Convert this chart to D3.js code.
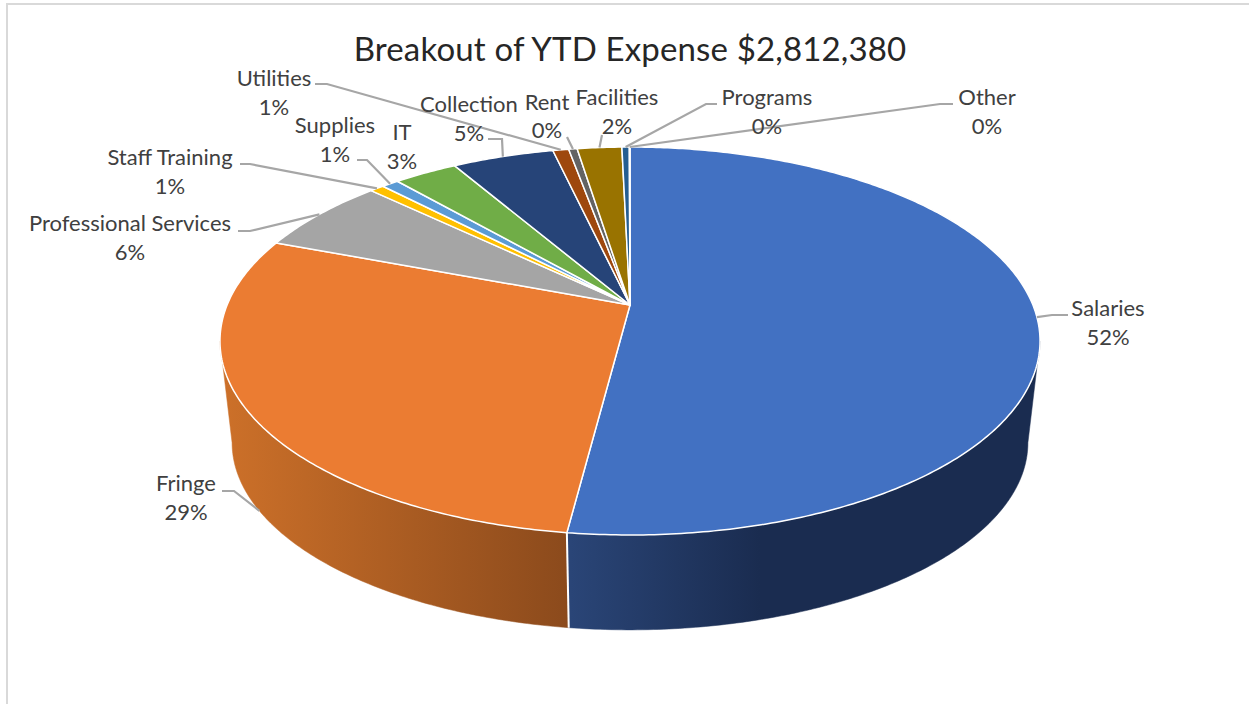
<!DOCTYPE html>
<html>
<head>
<meta charset="utf-8">
<script src="https://d3js.org/d3.v7.min.js"></script>
<style>
  html, body { margin: 0; padding: 0; background: #fff; overflow: hidden; }
  text { font-family: Lato, "Open Sans", sans-serif; }
</style>
</head>
<body>
<div id="chart-area"></div>
<script>
// values, in percent of the total
const categories = ["Salaries", "Fringe", "Professional Services", "Staff Training", "Supplies", "IT",
    "Collection", "Utilities", "Rent", "Facilities", "Programs", "Other"]
const expenses = [52.03, 28.7, 6.35, 0.67, 0.8, 3.0, 4.8, 0.75, 0.4, 2.1, 0.35, 0.03]
const colors = ["#4271c2", "#eb7c32", "#a5a5a5", "#ffc000", "#5b9bd5", "#70ad47",
    "#264478", "#9e480e", "#636363", "#997300", "#255e91", "#6f9bd8"]
const chartTitle = "Breakout of YTD Expense $2,812,380"

// label placement: text centre, y of the two lines, leader elbow points
const labelLayout = [
    { x: 1108, y1: 316, y2: 345, leader: [[1068, 315], [1052, 315]] },
    { x: 186, y1: 491, y2: 520, leader: [[222, 491], [234, 491]], onWall: true },
    { x: 130, y1: 231, y2: 260, leader: [[238, 231], [250, 231]] },
    { x: 170, y1: 165, y2: 194, leader: [[240, 164], [250, 164]] },
    { x: 335, y1: 133, y2: 162, leader: [[357, 160], [367, 160]] },
    { x: 402, y1: 140, y2: 169, leader: null },
    { x: 469, y1: 112, y2: 141, leader: [[488, 139], [502, 139]] },
    { x: 274, y1: 86, y2: 115, leader: [[315, 84], [327, 84]] },
    { x: 547, y1: 110, y2: 138, leader: [[567, 137]] },
    { x: 617, y1: 105, y2: 134, leader: [[602, 135]] },
    { x: 767, y1: 105, y2: 134, leader: [[717, 104], [706, 104]] },
    { x: 987, y1: 105, y2: 134, leader: [[953, 104], [940, 104]] }
]

const WIDTH = 1249
const HEIGHT = 704

// the pie is a tilted disc, so its rim goes through a small perspective projection
const P = 0.1856
const TOP_FACE = { ax: 402.9, ay: 187.3, cx: 630, cy: 305 }
const BOTTOM_FACE = { ax: 391, ay: 180.7, cx: 630, cy: 408 }

function project(angle, face) {
    const sx = Math.sin(angle)
    const sy = -Math.cos(angle)
    const w = 1 - P * sy
    return [face.cx + face.ax * sx / w, face.cy + face.ay * sy / w]
}

function rim(a0, a1, face) {
    const n = Math.max(2, Math.ceil((a1 - a0) * 90))
    return d3.range(n + 1).map(i => project(a0 + (a1 - a0) * i / n, face))
}

const line = d3.line()
const pct = d3.format(".0%")
const total = d3.sum(expenses)

const arcs = d3.pie().sort(null)(expenses)

const svg = d3.select("#chart-area").append("svg")
    .attr("width", WIDTH)
    .attr("height", HEIGHT)
    .style("display", "block")

// frame of the pasted chart
svg.append("path")
    .attr("d", line([[7, 704], [7, 4], [1249, 4]]))
    .attr("fill", "none")
    .attr("stroke", "#d9d9d9")
    .attr("stroke-width", 2)

const defs = svg.append("defs")

function wallGradient(id, x1, x2, c1, c2) {
    const g = defs.append("linearGradient")
        .attr("id", id)
        .attr("gradientUnits", "userSpaceOnUse")
        .attr("x1", x1).attr("x2", x2)
        .attr("y1", 0).attr("y2", 0)
    g.append("stop").attr("offset", 0).attr("stop-color", c1)
    g.append("stop").attr("offset", 1).attr("stop-color", c2)
}
wallGradient("wall-blue", 570, 760, "#2a4577", "#1a2c50")
wallGradient("wall-orange", 225, 570, "#cc7029", "#8b4a1c")

// outer walls, only the two big slices show one. They start where the rim turns back
const rightEdge = Math.PI / 2 + 0.187
const leftEdge = 3 * Math.PI / 2 - 0.187
const split = arcs[0].endAngle
const walls = [
    { a0: rightEdge, a1: split, fill: "url(#wall-blue)" },
    { a0: split, a1: leftEdge, fill: "url(#wall-orange)" }
]
svg.selectAll(".wall").data(walls).enter().append("path")
    .attr("class", "wall")
    .attr("fill", d => d.fill)
    .attr("stroke", d => d.fill)
    .attr("stroke-width", 0.5)
    .attr("d", d => line(rim(d.a0, d.a1, TOP_FACE).concat(rim(d.a0, d.a1, BOTTOM_FACE).reverse())) + "Z")

// white seam between the walls
svg.append("path")
    .attr("d", line([project(split, TOP_FACE), project(split, BOTTOM_FACE)]))
    .attr("stroke", "#fff")
    .attr("stroke-width", 2)

// top face
svg.selectAll(".slice").data(arcs).enter().append("path")
    .attr("class", "slice")
    .attr("fill", (d, i) => colors[i])
    .attr("stroke", "#fff")
    .attr("stroke-width", 1.5)
    .attr("stroke-linejoin", "round")
    .attr("d", d => line([[TOP_FACE.cx, TOP_FACE.cy]].concat(rim(d.startAngle, d.endAngle, TOP_FACE))) + "Z")

// leader lines
svg.selectAll(".leader").data(arcs.filter((d, i) => labelLayout[i].leader)).enter().append("path")
    .attr("class", "leader")
    .attr("fill", "none")
    .attr("stroke", "#a6a6a6")
    .attr("stroke-width", 2.2)
    .attr("d", d => {
        const mid = (d.startAngle + d.endAngle) / 2
        const face = labelLayout[d.index].onWall ? BOTTOM_FACE : TOP_FACE
        const end = project(mid, face)
        return line(labelLayout[d.index].leader.concat([end]))
    })

// labels
const labels = svg.selectAll(".label").data(arcs).enter().append("g")
    .attr("class", "label")
    .attr("text-anchor", "middle")
    .attr("font-size", 22)
    .attr("fill", "#404040")
labels.append("text")
    .attr("x", d => labelLayout[d.index].x)
    .attr("y", d => labelLayout[d.index].y1)
    .text(d => categories[d.index])
labels.append("text")
    .attr("x", d => labelLayout[d.index].x)
    .attr("y", d => labelLayout[d.index].y2)
    .text(d => pct(d.value / total))

svg.append("text")
    .attr("x", 630)
    .attr("y", 61)
    .attr("text-anchor", "middle")
    .attr("font-size", 33)
    .attr("letter-spacing", 0.15)
    .attr("fill", "#262626")
    .text(chartTitle)
</script>
</body>
</html>
